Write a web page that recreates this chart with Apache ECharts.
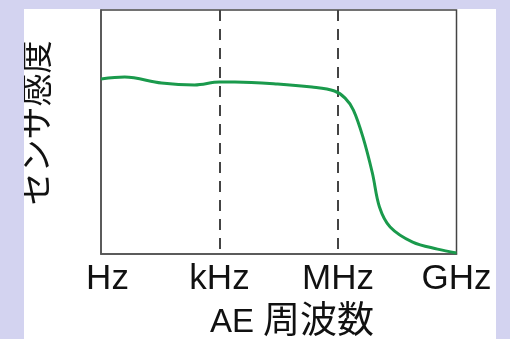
<!DOCTYPE html>
<html><head><meta charset="utf-8">
<script src="https://cdn.jsdelivr.net/npm/echarts@6/dist/echarts.min.js"></script>
<style>
html,body{margin:0;padding:0;background:#d3d3f0;width:510px;height:339px;overflow:hidden;}
#panel{position:absolute;left:24px;top:9px;width:472px;height:330px;background:#fff;}
#chart{width:472px;height:330px;}
</style></head><body>
<div id="panel"><div id="chart"></div></div>
<script>
// Tick labels (x positions 0..3 on a log-frequency scale)
const tickLabels = ['Hz', 'kHz', 'MHz', 'GHz'];
// Sensitivity curve (x in decades from Hz, y relative sensitivity 0..100)
const freqPos = [0, 0.2, 0.51, 0.79, 1.0, 1.13, 1.49, 1.78, 1.97, 2.06, 2.13, 2.21, 2.29, 2.35, 2.44, 2.63, 2.84, 3.0];
const sensitivity = [71.7, 72.5, 70.1, 69.3, 70.5, 70.5, 69.7, 68.4, 66.8, 63.9, 59.0, 48.0, 33.2, 19.3, 11.1, 4.9, 2.0, 0.4];
const xNameLatin = 'AE';
const xNameCJK = '周波数';
const yName = 'センサ感度';

const font = '"Liberation Sans", Arial, "Noto Sans CJK JP", sans-serif';
const chart = echarts.init(document.getElementById('chart'), null, {renderer: 'canvas'});
chart.setOption({
  animation: false,
  grid: {left: 77, top: 1, right: 39.5, bottom: 85, show: true, borderColor: '#444', borderWidth: 1.5, backgroundColor: 'transparent'},
  xAxis: {
    type: 'value', min: 0, max: 3, interval: 1,
    axisLine: {show: true, lineStyle: {color: '#555', width: 1.5}},
    axisTick: {show: false},
    axisLabel: {
      margin: 8, fontSize: 35, color: '#111', fontFamily: font,
      formatter: v => Math.round(v) === 0 ? '{first|' + tickLabels[0] + '}' : tickLabels[Math.round(v)],
      rich: {first: {fontSize: 35, color: '#111', fontFamily: font, padding: [0, 0, 0, 13]}}
    },
    splitLine: {show: true, lineStyle: {color: ['transparent', '#444', '#444', 'transparent'], width: 2, type: [11, 8]}}
  },
  yAxis: {
    type: 'value', min: 0, max: 100,
    axisLine: {show: true, lineStyle: {color: '#555', width: 1.5}},
    axisTick: {show: false}, axisLabel: {show: false}, splitLine: {show: false}
  },
  series: [{
    type: 'line',
    data: freqPos.map((x, i) => [x, sensitivity[i]]),
    smooth: 0.35,
    symbol: 'none',
    lineStyle: {color: '#1a9a4c', width: 3}
  }],
  graphic: [
    {type: 'text', x: 268, y: 314, style: {
      text: '{a|' + xNameLatin + '} {b|' + xNameCJK + '}',
      textAlign: 'center', textVerticalAlign: 'middle',
      rich: {
        a: {fontSize: 33, fontFamily: font, fill: '#111', color: '#111'},
        b: {fontSize: 37, fontFamily: font, fill: '#111', color: '#111'}
      },
      font: '33px ' + font, fill: '#111'
    }, z: 10},
    {type: 'text', x: 15, y: 114, rotation: Math.PI / 2, style: {text: yName, font: '33px ' + font, fill: '#111', textAlign: 'center', textVerticalAlign: 'middle'}, z: 10}
  ]
});
</script></body></html>
